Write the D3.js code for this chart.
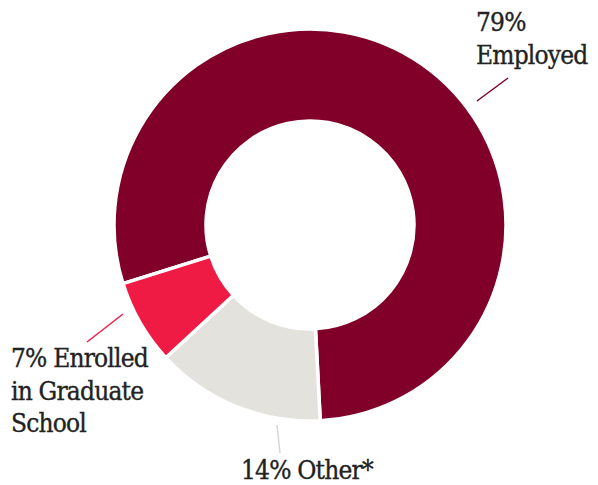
<!DOCTYPE html>
<html><head><meta charset="utf-8">
<script src="https://cdn.jsdelivr.net/npm/d3@7"></script>
<style>body{margin:0;background:#fff}svg{display:block}</style>
</head><body>
<script>
const categories = ["Employed", "Other*", "Enrolled in Graduate School"];
const values = [79, 14, 7];
const colors = ["#800029", "#e4e2dd", "#ef1b45"];
const lineColors = ["#800029", "#d9d7d2", "#ef1b45"];
const labelLines = [["79%", "Employed"], ["14% Other*"], ["7% Enrolled", "in Graduate", "School"]];

const W = 598, H = 485;
const cx = 310, cy = 225, R = 196, r0 = 104;
const svg = d3.select("body").append("svg").attr("width", W).attr("height", H);
const g = svg.append("g").attr("transform", `translate(${cx},${cy})`);

const startAngle = -107.4 * Math.PI / 180;
const pie = d3.pie().sort(null).value(d => d)
  .startAngle(startAngle).endAngle(startAngle + 2 * Math.PI);
const arcs = pie(values);
const arc = d3.arc().innerRadius(r0).outerRadius(R);

g.selectAll("path.slice").data(arcs).join("path")
  .attr("class", "slice")
  .attr("d", arc)
  .attr("fill", (d, i) => colors[i])
  .attr("stroke", "#fff").attr("stroke-width", 3.5).attr("stroke-linejoin", "miter");

const leaders = [
  {i: 0, p1: [477, 101], p2: [508, 78]},
  {i: 1, p1: [277, 425], p2: [280, 453]},
  {i: 2, p1: [123, 314], p2: [87, 342]}
];
svg.selectAll("line.leader").data(leaders).join("line")
  .attr("x1", d => d.p1[0]).attr("y1", d => d.p1[1])
  .attr("x2", d => d.p2[0]).attr("y2", d => d.p2[1])
  .attr("stroke", d => lineColors[d.i]).attr("stroke-width", 1.5);

const labelPos = [
  {x: 476, y: 31},
  {x: 241, y: 479},
  {x: 11, y: 367}
];
const lh = 32.5;
labelLines.forEach((lines, i) => {
  const t = svg.append("text")
    .attr("font-family", "'DejaVu Serif Condensed', 'DejaVu Serif', serif")
    .attr("font-stretch", "condensed")
    .attr("font-size", 26)
    .attr("fill", "#222")
    .attr("stroke", "#222").attr("stroke-width", 0.35)
    .attr("letter-spacing", -0.8);
  lines.forEach((s, k) => {
    t.append("tspan").attr("x", labelPos[i].x).attr("y", labelPos[i].y + k * lh).text(s);
  });
});
</script>
</body></html>
